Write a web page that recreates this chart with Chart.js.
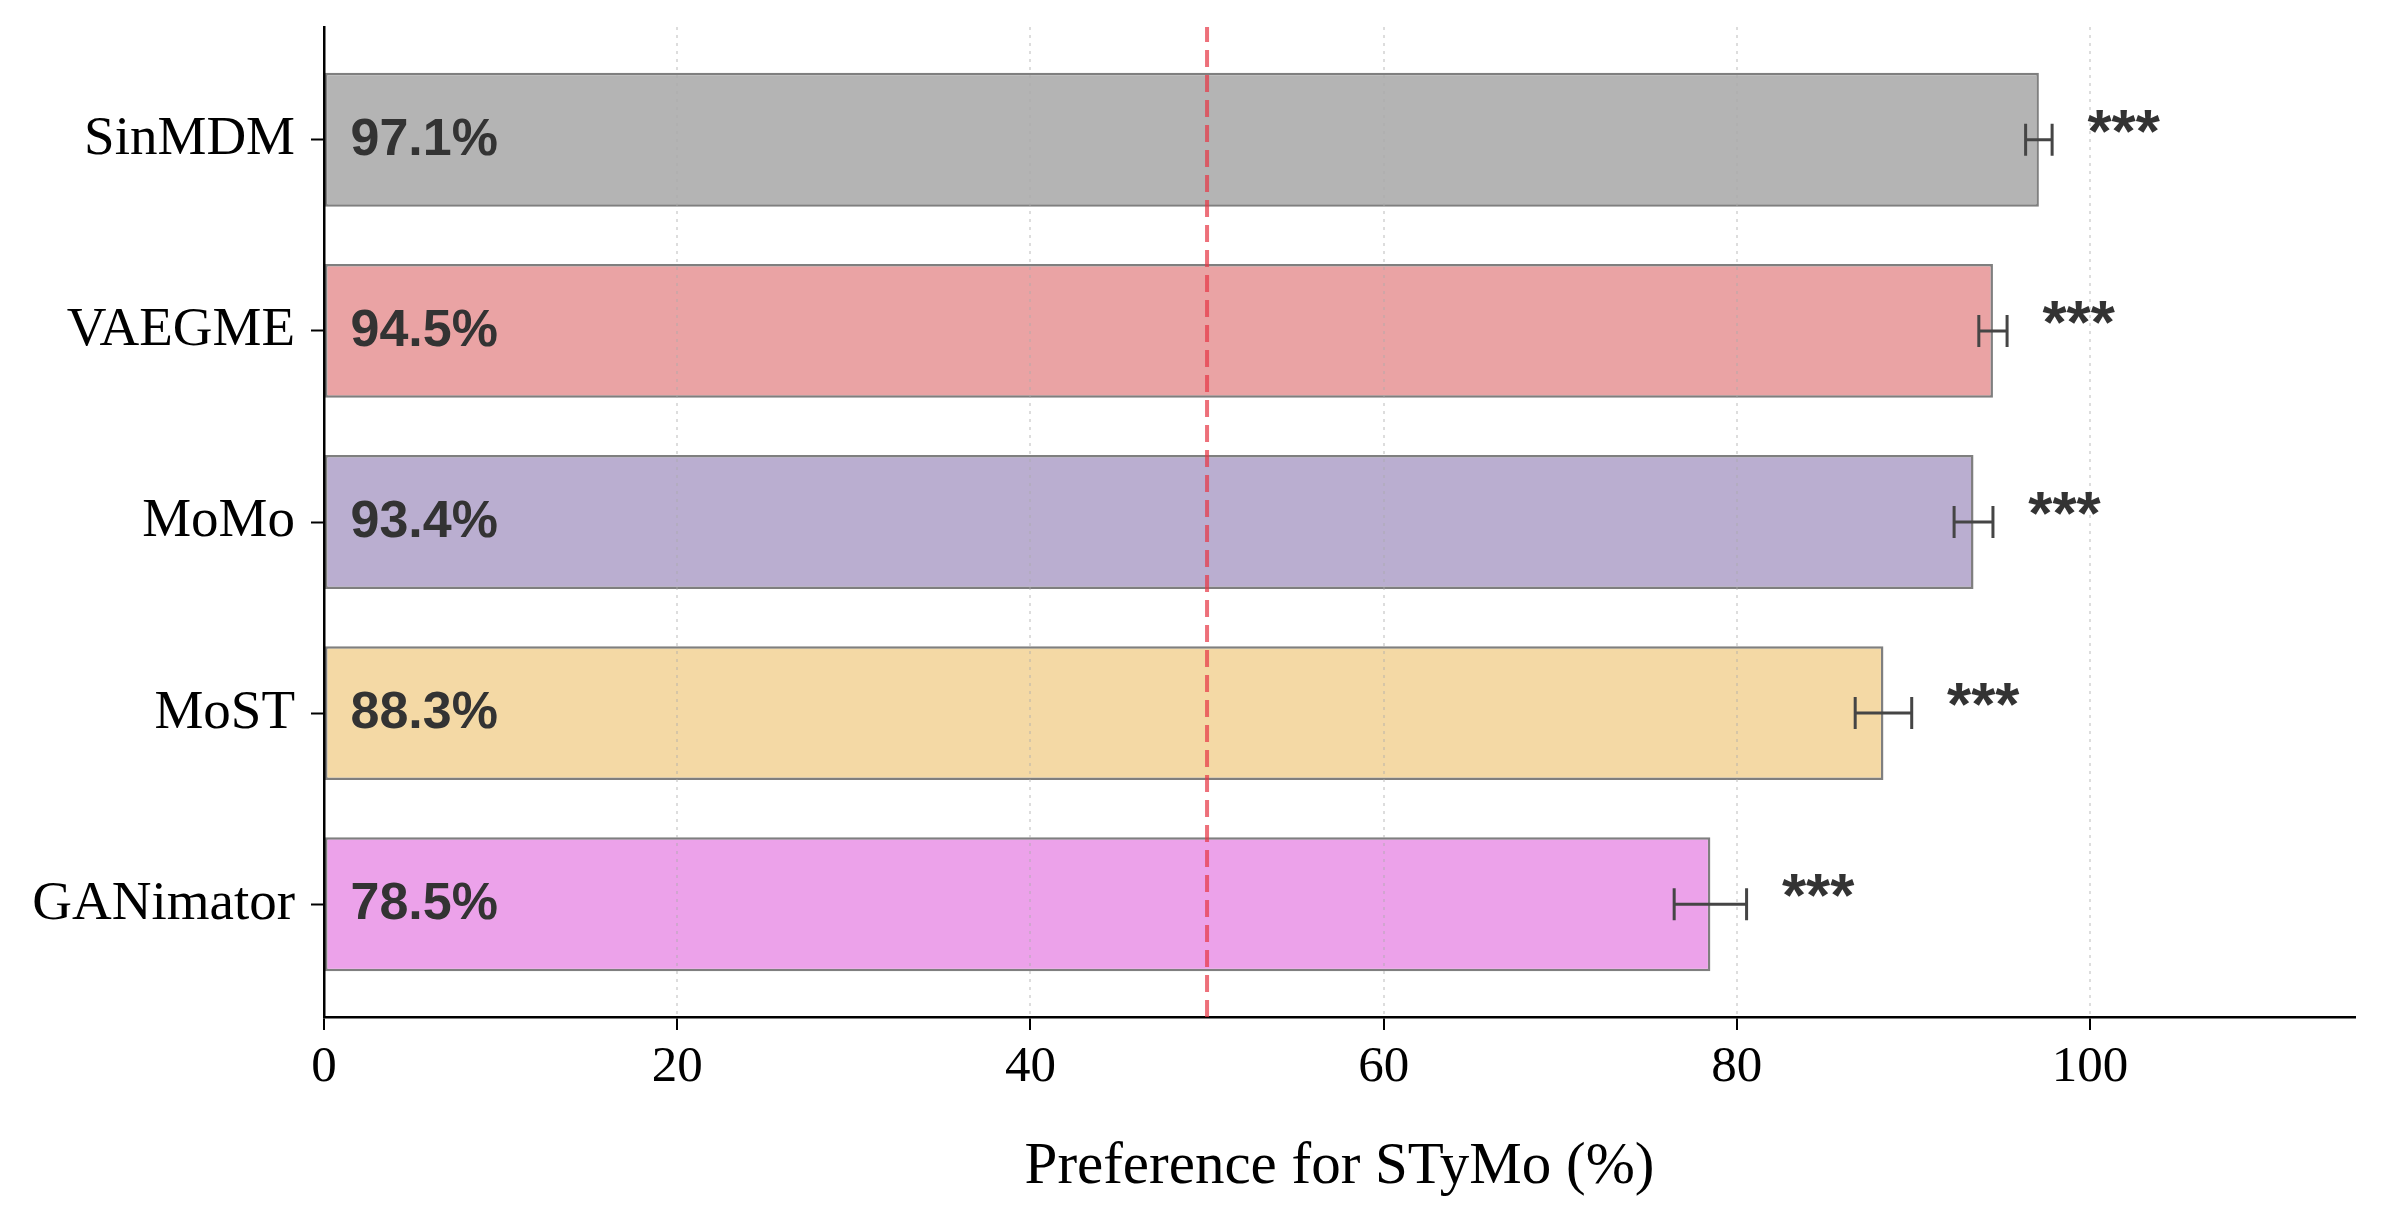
<!DOCTYPE html>
<html>
<head>
<meta charset="utf-8">
<script src="https://cdn.jsdelivr.net/npm/chart.js@4/dist/chart.umd.min.js"></script>
<style>
  html, body { margin: 0; padding: 0; background: #fff; }
  #wrap { width: 2384px; height: 1229px; }
</style>
</head>
<body>
<div id="wrap"><canvas id="bars" width="2384" height="1229"></canvas></div>
<script>
// data
const methods = ['SinMDM', 'VAEGME', 'MoMo', 'MoST', 'GANimator'];
const preference = [97.1, 94.5, 93.4, 88.3, 78.5];
const errors = [0.75, 0.8, 1.1, 1.6, 2.05];
const stars = ['***', '***', '***', '***', '***'];
const xTicks = [0, 20, 40, 60, 80, 100];
const chanceLevel = 50;

const barColors = ['#b4b4b4', '#eaa3a4', '#baaed0', '#f4d9a5', '#eca2ea'];

// draws the 50% line, error bars, bar values and stars
const overlay = {
    id: 'overlay',
    afterDraw(chart) {
        const ctx = chart.ctx;
        const x = chart.scales.x;
        const y = chart.scales.y;
        const area = chart.chartArea;

        // dashed chance line
        ctx.save();
        ctx.strokeStyle = 'rgba(230, 57, 70, 0.72)';
        ctx.lineWidth = 4;
        ctx.setLineDash([17, 8]);
        ctx.beginPath();
        ctx.moveTo(x.getPixelForValue(chanceLevel), area.bottom);
        ctx.lineTo(x.getPixelForValue(chanceLevel), area.top);
        ctx.stroke();
        ctx.restore();

        for (let i = 0; i < methods.length; i++) {
            let cy = y.getPixelForValue(i);
            let lo = x.getPixelForValue(preference[i] - errors[i]);
            let hi = x.getPixelForValue(preference[i] + errors[i]);

            // error bar
            ctx.save();
            ctx.strokeStyle = '#454545';
            ctx.lineWidth = 3;
            ctx.beginPath();
            ctx.moveTo(lo, cy);
            ctx.lineTo(hi, cy);
            ctx.moveTo(lo, cy - 16);
            ctx.lineTo(lo, cy + 16);
            ctx.moveTo(hi, cy - 16);
            ctx.lineTo(hi, cy + 16);
            ctx.stroke();
            ctx.restore();

            // value inside the bar
            ctx.save();
            ctx.fillStyle = '#333333';
            ctx.font = 'bold 52px "Liberation Sans", Arial, sans-serif';
            ctx.textAlign = 'left';
            ctx.textBaseline = 'alphabetic';
            ctx.fillText(preference[i].toFixed(1) + '%', x.getPixelForValue(1.5), cy + 15);

            // significance stars
            ctx.font = 'bold 62px "Liberation Sans", Arial, sans-serif';
            ctx.fillText(stars[i], x.getPixelForValue(preference[i] + errors[i] + 2), cy + 12);
            ctx.restore();
        }
    }
};

new Chart(document.getElementById('bars'), {
    type: 'bar',
    data: {
        datasets: [{
            data: preference.map((v, i) => ({ x: v, y: i })),
            backgroundColor: barColors,
            borderColor: '#7f7f7f',
            borderWidth: 2.5,
            borderSkipped: false,
            barPercentage: 0.7,
            categoryPercentage: 1
        }]
    },
    options: {
        indexAxis: 'y',
        responsive: false,
        animation: false,
        devicePixelRatio: 1,
        layout: { padding: { top: 27, right: 29, left: 0, bottom: 0 } },
        plugins: {
            legend: { display: false },
            tooltip: { enabled: false }
        },
        scales: {
            x: {
                type: 'linear',
                min: 0,
                max: 115,
                afterBuildTicks: scale => { scale.ticks = xTicks.map(v => ({ value: v })); },
                afterFit: scale => { scale.height = 212; },
                grid: {
                    z: 1,
                    color: 'rgba(170, 170, 170, 0.4)',
                    lineWidth: 2,
                    tickColor: '#000',
                    tickWidth: 2,
                    tickLength: 13
                },
                border: { display: true, color: '#000', width: 2.5, dash: [3, 5], z: 2 },
                ticks: {
                    color: '#000',
                    padding: 7,
                    font: { family: '"Liberation Serif", "Times New Roman", serif', size: 51 }
                },
                title: {
                    display: true,
                    text: 'Preference for STyMo (%)',
                    color: '#000',
                    padding: { top: 0, bottom: 26 },
                    font: { family: '"Liberation Serif", "Times New Roman", serif', size: 59 }
                }
            },
            y: {
                type: 'linear',
                min: -0.59,
                max: 4.59,
                reverse: true,
                offset: false,
                afterBuildTicks: scale => { scale.ticks = methods.map((m, i) => ({ value: i })); },
                afterFit: scale => {
                    scale.width = 324;
                    scale.paddingTop = 0;
                    scale.paddingBottom = 0;
                },
                grid: {
                    offset: false,
                    drawOnChartArea: false,
                    color: '#000',
                    tickColor: '#000',
                    tickWidth: 2,
                    tickLength: 13
                },
                border: { display: true, color: '#000', width: 2.5, z: 2 },
                ticks: {
                    color: '#000',
                    padding: 16,
                    callback: v => methods[v],
                    font: { family: '"Liberation Serif", "Times New Roman", serif', size: 55 }
                }
            }
        }
    },
    plugins: [overlay]
});
</script>
</body>
</html>
